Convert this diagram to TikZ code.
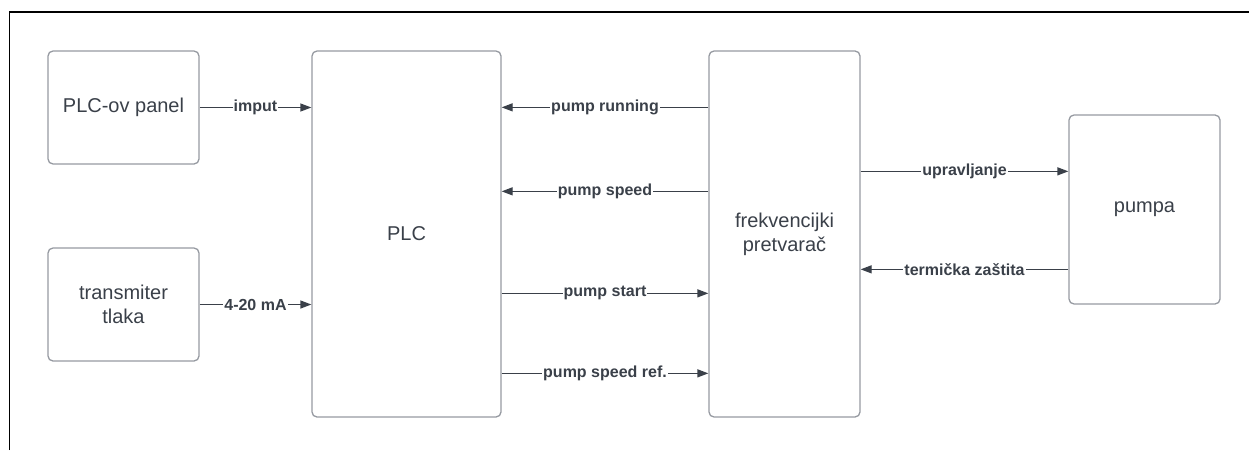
\documentclass[tikz,border=0pt]{standalone}
\usepackage{fontspec}
\setmainfont{Liberation Sans}
\usetikzlibrary{arrows.meta}
\definecolor{boxgray}{HTML}{969AA1}
\definecolor{ink}{HTML}{3A4049}
\begin{document}
\begin{tikzpicture}[x=1pt,y=-1pt,
    block/.style={draw=boxgray,line width=1.3pt,rounded corners=5pt,align=center,
      font=\fontsize{20}{24}\selectfont,text=ink,inner sep=0pt},
    sig/.style={draw=ink,line width=1.3pt,-{Triangle[length=11pt,width=8pt]}},
    lbl/.style={fill=white,inner sep=1pt,text=ink,font=\fontsize{16}{18}\selectfont\bfseries}]
      \useasboundingbox (0,0) rectangle (1249,450);
      \draw[line width=1.5pt] (9.5,450) -- (9.5,12) -- (1249,12);
      \node[block,minimum width=151pt,minimum height=113pt] (panel) at (123.5,107.5) {PLC-ov panel};
      \node[block,minimum width=151pt,minimum height=113pt] (trans) at (123.5,304.5) {transmiter\\tlaka};
      \node[block,minimum width=189pt,minimum height=366pt] (plc) at (406.5,234) {PLC};
      \node[block,minimum width=151pt,minimum height=366pt] (fc) at (784.5,234) {frekvencijki\\pretvarač};
      \node[block,minimum width=151pt,minimum height=189pt] (pumpa) at (1144.5,209.5) {pumpa};
      \begin{scope}[every node/.style={lbl}]
        \draw[sig] (panel.east) -- (panel.east -| plc.west) node[midway]{imput};
        \draw[sig] (trans.east) -- (trans.east -| plc.west) node[midway]{4-20 mA};
        \draw[sig] ([yshift=-57pt]fc.north west) -- ([yshift=-57pt]plc.north east) node[midway]{pump running};
        \draw[sig] ([yshift=-141pt]fc.north west) -- ([yshift=-141pt]plc.north east) node[midway]{pump speed};
        \draw[sig] ([yshift=-243pt]plc.north east) -- ([yshift=-243pt]fc.north west) node[midway]{pump start};
        \draw[sig] ([yshift=-323pt]plc.north east) -- ([yshift=-323pt]fc.north west) node[midway]{pump speed ref.};
        \draw[sig] ([yshift=-57pt]pumpa.north west -| fc.east) -- ([yshift=-57pt]pumpa.north west) node[midway]{upravljanje};
        \draw[sig] ([yshift=-155pt]pumpa.north west) -- ([yshift=-155pt]pumpa.north west -| fc.east) node[midway]{termička zaštita};
      \end{scope}
    \end{tikzpicture}
\end{document}
